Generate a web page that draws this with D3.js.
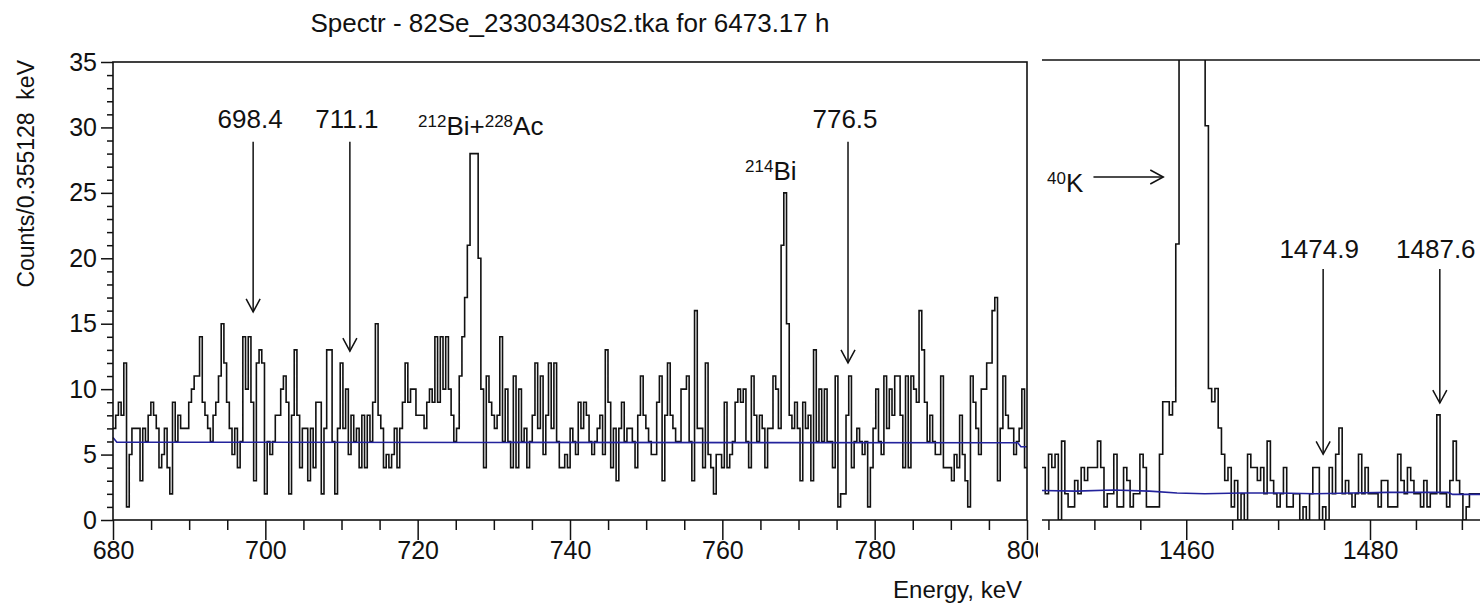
<!DOCTYPE html>
<html>
<head>
<meta charset="utf-8">
<script src="https://d3js.org/d3.v7.min.js"></script>
<style>
  body { margin: 0; background: #fff; }
  svg { display: block; font-family: "Liberation Sans", Arial, sans-serif; }
</style>
</head>
<body>
<svg width="1480" height="609"></svg>
<script>
// bin width of the spectrum, keV
const binWidth = 0.355128

// left window 680-800 keV, counts per bin
const leftStart = 680
const leftCounts = [
  7, 8, 9, 8, 12, 1, 5, 7, 7, 7,
  3, 7, 6, 8, 9, 8, 7, 4, 5, 7,
  4, 2, 9, 6, 8, 7, 7, 7, 9, 10,
  11, 11, 14, 9, 8, 7, 6, 8, 9, 11,
  15, 12, 9, 7, 5, 7, 4, 6, 14, 10,
  14, 9, 3, 12, 13, 12, 2, 6, 5, 6,
  8, 8, 10, 11, 9, 2, 8, 13, 8, 4,
  7, 7, 3, 7, 4, 9, 9, 2, 7, 13,
  13, 6, 2, 7, 12, 7, 10, 5, 8, 6,
  7, 4, 8, 4, 8, 6, 9, 15, 8, 7,
  4, 5, 4, 5, 7, 4, 7, 9, 12, 9,
  10, 10, 8, 8, 8, 7, 9, 10, 9, 14,
  9, 14, 10, 14, 10, 8, 6, 7, 11, 14,
  17, 21, 28, 28, 28, 20, 10, 4, 11, 9,
  8, 7, 8, 14, 6, 10, 6, 4, 11, 4,
  10, 6, 7, 4, 6, 8, 12, 7, 11, 5,
  8, 12, 7, 12, 6, 4, 4, 5, 4, 7,
  6, 5, 9, 7, 9, 8, 6, 5, 6, 7,
  8, 5, 13, 9, 4, 7, 3, 7, 9, 6,
  7, 7, 6, 4, 8, 11, 8, 7, 6, 5,
  5, 9, 11, 3, 8, 12, 8, 7, 6, 6,
  10, 10, 11, 6, 3, 16, 7, 7, 4, 12,
  5, 4, 2, 5, 5, 4, 9, 4, 5, 6,
  9, 10, 9, 10, 6, 4, 11, 8, 6, 8,
  7, 4, 7, 7, 11, 10, 7, 21, 25, 15,
  8, 7, 9, 7, 3, 9, 7, 8, 3, 13,
  6, 10, 6, 10, 6, 6, 4, 11, 1, 2,
  2, 8, 11, 4, 6, 7, 6, 5, 6, 1,
  4, 7, 10, 6, 5, 11, 7, 10, 8, 11,
  11, 8, 4, 11, 4, 11, 10, 9, 16, 13,
  9, 6, 8, 6, 5, 5, 11, 4, 4, 4,
  3, 5, 4, 8, 5, 3, 1, 11, 9, 7,
  5, 10, 10, 12, 12, 16, 17, 3, 7, 11,
  8, 7, 7, 5, 6, 7, 10, 4
]

// right window around the 40K line (peak bins run off the top)
const rightStart = 1444.3
const rightCounts = [
  4, 2, 5, 4, 5, 0, 6, 2, 1, 1,
  3, 2, 4, 3, 4, 4, 4, 6, 4, 1,
  2, 2, 5, 1, 1, 4, 3, 1, 2, 2,
  5, 4, 1, 1, 1, 1, 5, 9, 9, 8,
  9, 21, 48, 95, 160, 210, 205, 150, 90, 48,
  30, 10, 9, 10, 7, 5, 3, 4, 1, 3,
  0, 2, 0, 5, 4, 4, 3, 4, 2, 6,
  3, 2, 1, 2, 4, 1, 1, 2, 2, 0,
  1, 0, 2, 4, 4, 0, 1, 0, 4, 2,
  5, 7, 2, 3, 2, 1, 2, 5, 2, 4,
  2, 2, 2, 1, 3, 3, 1, 1, 1, 5,
  3, 2, 4, 3, 2, 2, 1, 3, 1, 2,
  2, 8, 2, 2, 1, 3, 6, 3, 2, 0,
  1, 2, 2, 2, 2, 2, 3, 2
]

// fitted background (blue), [keV, counts]
const leftBackground = [[680, 6.3], [680.5, 5.95], [798.8, 5.9], [799.2, 5.6], [800, 5.6]]
const rightBackground = [[1444.3, 2.25], [1448, 2.2], [1452, 2.28], [1456, 2.2], [1459, 2.05],
  [1462, 2.0], [1466, 2.05], [1470, 2.05], [1474, 2.0], [1478, 2.05], [1482, 2.1],
  [1486, 2.1], [1488.5, 2.1], [1489, 1.95], [1496, 1.95]]

// ticks
const leftMajor = [680, 700, 720, 740, 760, 780, 800]
const rightMajor = [1460, 1480]
const yMajor = [0, 5, 10, 15, 20, 25, 30, 35]

// arrows: energy, label, arrow top and tip in counts
const leftMarks = [
  {e: 698.4, label: "698.4", top: 28.9, tip: 15.9},
  {e: 711.1, label: "711.1", top: 28.9, tip: 12.9},
  {e: 776.5, label: "776.5", top: 28.9, tip: 12.0}
]
const rightMarks = [
  {e: 1474.9, label: "1474.9", top: 19.1, tip: 5.0},
  {e: 1487.6, label: "1487.6", top: 19.1, tip: 8.9}
]

const svg = d3.select("svg")

const x1 = d3.scaleLinear().domain([680, 800]).range([113, 1027])
const y1 = d3.scaleLinear().domain([0, 35]).range([520, 62])
const x2 = d3.scaleLinear().domain([1444.3, 1480]).range([1042, 1370])
const y2 = d3.scaleLinear().domain([0, 35]).range([520, 60])

// histogram as step points
function steps(start, counts) {
  const pts = counts.map((c, i) => [start + i * binWidth, c])
  pts.push([start + counts.length * binWidth, counts[counts.length - 1]])
  return pts
}

const defs = svg.append("defs")
defs.append("clipPath").attr("id", "clipL")
  .append("rect").attr("x", 113).attr("y", 62).attr("width", 914).attr("height", 458)
defs.append("clipPath").attr("id", "clipR")
  .append("rect").attr("x", 1042).attr("y", 60).attr("width", 440).attr("height", 460)

function arrowDown(g, x, yTop, yTip) {
  g.append("line").attr("x1", x).attr("x2", x).attr("y1", yTop).attr("y2", yTip)
  g.append("polyline").attr("points", [[x - 7, yTip - 13], [x, yTip], [x + 7, yTip - 13]].join(" "))
}

// ---------- left panel ----------
const left = svg.append("g")

const histL = d3.line().x(d => x1(d[0])).y(d => y1(d[1])).curve(d3.curveStepAfter)
left.append("path")
  .datum(steps(leftStart, leftCounts))
  .attr("clip-path", "url(#clipL)")
  .attr("d", histL)
  .attr("fill", "none").attr("stroke", "#111").attr("stroke-width", 1.6)

left.append("path")
  .datum(leftBackground)
  .attr("d", d3.line().x(d => x1(d[0])).y(d => y1(d[1])))
  .attr("fill", "none").attr("stroke", "#23239c").attr("stroke-width", 1.6)

// frame
left.append("rect").attr("x", 113).attr("y", 62).attr("width", 914).attr("height", 458)
  .attr("fill", "none").attr("stroke", "#111").attr("stroke-width", 1.6)

// x axis: minor every 5 keV, major every 20 keV
left.append("g").attr("transform", "translate(0,520)")
  .call(d3.axisBottom(x1).tickValues(d3.range(685, 800, 5).filter(v => v % 20)).tickSize(10).tickFormat(""))
left.append("g").attr("transform", "translate(0,520)")
  .call(d3.axisBottom(x1).tickValues(leftMajor).tickSize(20).tickPadding(1).tickFormat(d3.format("d")))

// y axis: minor every count, major every 5
left.append("g").attr("transform", "translate(113,0)")
  .call(d3.axisLeft(y1).tickValues(d3.range(0, 36).filter(v => v % 5)).tickSize(6).tickFormat(""))
left.append("g").attr("transform", "translate(113,0)")
  .call(d3.axisLeft(y1).tickValues(yMajor).tickSize(12).tickPadding(4).tickFormat(d3.format("d")))

svg.selectAll(".domain").remove()
svg.selectAll(".tick line").attr("stroke", "#111").attr("stroke-width", 1.5)
svg.selectAll(".tick text").attr("font-size", 25).attr("fill", "#111")
  .attr("font-family", "Liberation Sans, Arial, sans-serif")

// arrows and labels
const annL = left.append("g").attr("stroke", "#111").attr("stroke-width", 1.5).attr("fill", "none")
leftMarks.forEach(m => arrowDown(annL, x1(m.e), y1(m.top), y1(m.tip)))
left.selectAll("text.mark")
  .data(leftMarks)
  .join("text")
    .attr("class", "mark")
    .attr("x", d => x1(d.e) - 3)
    .attr("y", 128)
    .attr("text-anchor", "middle")
    .attr("font-size", 26)
    .attr("fill", "#111")
    .text(d => d.label)

function isotope(g, x, y, parts) {
  const t = g.append("text").attr("x", x).attr("y", y).attr("font-size", 26).attr("fill", "#111")
  parts.forEach(p => {
    t.append("tspan").attr("font-size", p.sup ? 17 : 26).attr("dy", p.sup ? -8 : 8).text(p.t)
  })
  // first tspan should not shift the baseline down
  t.select("tspan").attr("dy", parts[0].sup ? -8 : 0)
  return t
}
isotope(left, 418, 135, [{t: "212", sup: true}, {t: "Bi+"}, {t: "228", sup: true}, {t: "Ac"}])
isotope(left, 745, 180, [{t: "214", sup: true}, {t: "Bi"}])

// titles
svg.append("text")
  .attr("x", (113 + 1027) / 2).attr("y", 32)
  .attr("text-anchor", "middle").attr("font-size", 26).attr("fill", "#111")
  .text("Spectr - 82Se_23303430s2.tka for 6473.17 h")

svg.append("text")
  .attr("transform", "translate(34,60) rotate(-90)")
  .attr("text-anchor", "end").attr("font-size", 23).attr("fill", "#111")
  .style("white-space", "pre")
  .text("Counts/0.355128  keV")

svg.append("text")
  .attr("x", 1022).attr("y", 598)
  .attr("text-anchor", "end").attr("font-size", 24).attr("fill", "#111")
  .text("Energy, keV")

// ---------- right panel (pasted next to the left one) ----------
svg.append("rect").attr("x", 1038).attr("y", 0).attr("width", 442).attr("height", 609).attr("fill", "#fff")

const right = svg.append("g")

right.append("path")
  .datum(steps(rightStart, rightCounts))
  .attr("clip-path", "url(#clipR)")
  .attr("d", d3.line().x(d => x2(d[0])).y(d => y2(d[1])).curve(d3.curveStepAfter))
  .attr("fill", "none").attr("stroke", "#111").attr("stroke-width", 1.6)

right.append("path")
  .datum(rightBackground)
  .attr("clip-path", "url(#clipR)")
  .attr("d", d3.line().x(d => x2(d[0])).y(d => y2(d[1])))
  .attr("fill", "none").attr("stroke", "#23239c").attr("stroke-width", 1.6)

right.append("line").attr("x1", 1042).attr("x2", 1480).attr("y1", 60).attr("y2", 60)
  .attr("stroke", "#111").attr("stroke-width", 1.6)
right.append("line").attr("x1", 1042).attr("x2", 1480).attr("y1", 520).attr("y2", 520)
  .attr("stroke", "#111").attr("stroke-width", 1.6)

right.append("g").attr("transform", "translate(0,520)")
  .call(d3.axisBottom(x2).tickValues([1445, 1450, 1455, 1465, 1470, 1475, 1485, 1490]).tickSize(10).tickFormat(""))
right.append("g").attr("transform", "translate(0,520)")
  .call(d3.axisBottom(x2).tickValues(rightMajor).tickSize(20).tickPadding(1).tickFormat(d3.format("d")))
right.selectAll(".domain").remove()
right.selectAll(".tick line").attr("stroke", "#111").attr("stroke-width", 1.5)
right.selectAll(".tick text").attr("font-size", 25).attr("fill", "#111")
  .attr("font-family", "Liberation Sans, Arial, sans-serif")

const annR = right.append("g").attr("stroke", "#111").attr("stroke-width", 1.5).attr("fill", "none")
rightMarks.forEach(m => arrowDown(annR, x2(m.e), y2(m.top), y2(m.tip)))
right.selectAll("text.mark")
  .data(rightMarks)
  .join("text")
    .attr("class", "mark")
    .attr("x", d => x2(d.e) - 4)
    .attr("y", 258)
    .attr("text-anchor", "middle")
    .attr("font-size", 26)
    .attr("fill", "#111")
    .text(d => d.label)

// 40K label with horizontal arrow
isotope(right, 1047, 192, [{t: "40", sup: true}, {t: "K"}])
const kY = y2(26.1)
annR.append("line").attr("x1", x2(1449.9)).attr("x2", x2(1457.5)).attr("y1", kY).attr("y2", kY)
annR.append("polyline")
  .attr("points", [[x2(1457.5) - 13, kY - 7], [x2(1457.5), kY], [x2(1457.5) - 13, kY + 7]].join(" "))
</script>
</body>
</html>
